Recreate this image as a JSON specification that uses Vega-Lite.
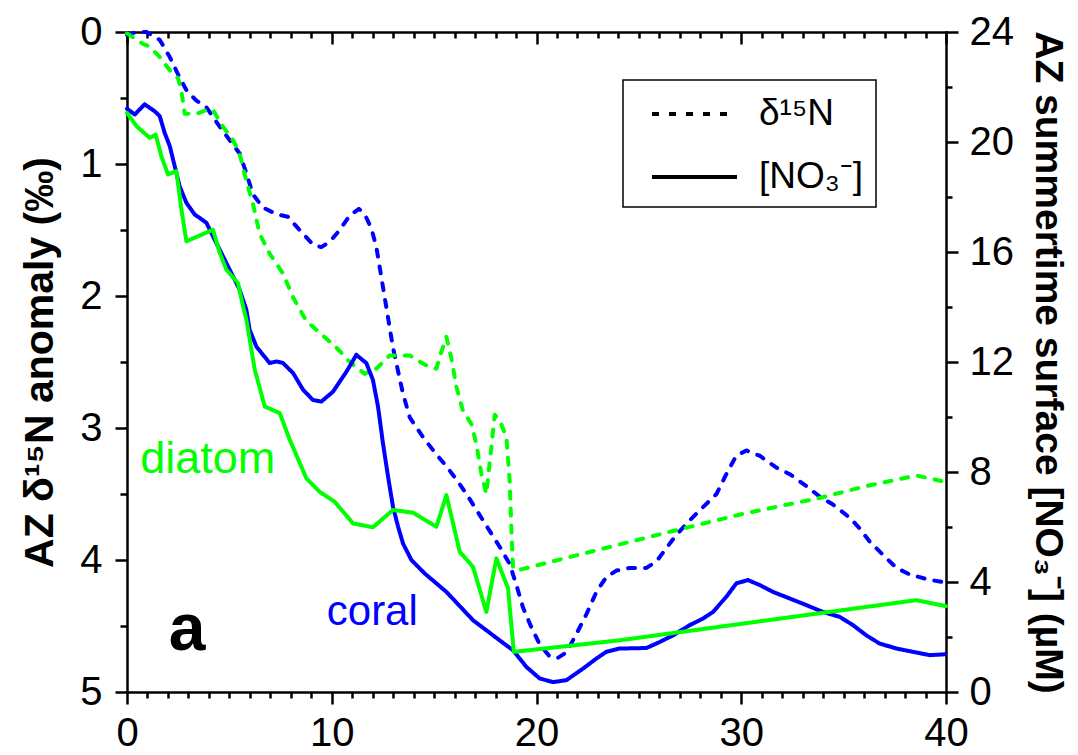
{
  "$schema": "https://vega.github.io/schema/vega-lite/v6.json",
  "width": 819,
  "height": 660,
  "autosize": {"type": "none"},
  "padding": {"left": 127, "top": 32, "right": 132, "bottom": 63},
  "background": "white",
  "config": {
    "view": {"stroke": null},
    "axis": {
      "domainColor": "black", "tickColor": "black", "domainWidth": 2.5, "tickWidth": 2.5,
      "domainCap": "square",
      "labelColor": "black", "labelFont": "Liberation Sans", "labelFontSize": 40,
      "grid": false, "labelFlush": false, "labelOverlap": false, "labelBound": false,
      "titleColor": "black"
    },
    "legend": {
      "orient": "none", "legendX": 496, "legendY": 48,
      "strokeColor": "black", "strokeWidth": 1.5, "fillColor": "white",
      "padding": 12, "symbolType": "M-0.25,0H4", "symbolSize": 1600,
      "symbolStrokeWidth": 4, "symbolStrokeColor": "black", "symbolFillColor": "transparent",
      "labelFont": "Liberation Sans", "labelFontSize": 37, "labelColor": "black",
      "labelOffset": 80, "rowPadding": 23
    }
  },
  "data": {"values": [
    {"proxy":"coral","kind":"d15N","age":0,"value":0.02},{"proxy":"coral","kind":"d15N","age":0.5,"value":0.0},{"proxy":"coral","kind":"d15N","age":0.95,"value":0.0},{"proxy":"coral","kind":"d15N","age":1.6,"value":0.06},{"proxy":"coral","kind":"d15N","age":2.09,"value":0.19},{"proxy":"coral","kind":"d15N","age":2.49,"value":0.32},{"proxy":"coral","kind":"d15N","age":2.9,"value":0.44},{"proxy":"coral","kind":"d15N","age":3.39,"value":0.52},{"proxy":"coral","kind":"d15N","age":3.88,"value":0.57},{"proxy":"coral","kind":"d15N","age":4.45,"value":0.70},{"proxy":"coral","kind":"d15N","age":5.02,"value":0.82},{"proxy":"coral","kind":"d15N","age":5.5,"value":0.92},{"proxy":"coral","kind":"d15N","age":5.83,"value":1.07},{"proxy":"coral","kind":"d15N","age":6.15,"value":1.23},{"proxy":"coral","kind":"d15N","age":6.64,"value":1.33},{"proxy":"coral","kind":"d15N","age":7.3,"value":1.38},{"proxy":"coral","kind":"d15N","age":7.86,"value":1.40},{"proxy":"coral","kind":"d15N","age":8.43,"value":1.50},{"proxy":"coral","kind":"d15N","age":9.08,"value":1.61},{"proxy":"coral","kind":"d15N","age":9.49,"value":1.63},{"proxy":"coral","kind":"d15N","age":9.9,"value":1.59},{"proxy":"coral","kind":"d15N","age":10.39,"value":1.50},{"proxy":"coral","kind":"d15N","age":10.88,"value":1.39},{"proxy":"coral","kind":"d15N","age":11.33,"value":1.34},{"proxy":"coral","kind":"d15N","age":11.61,"value":1.38},{"proxy":"coral","kind":"d15N","age":11.94,"value":1.49},{"proxy":"coral","kind":"d15N","age":12.18,"value":1.63},{"proxy":"coral","kind":"d15N","age":12.34,"value":1.78},{"proxy":"coral","kind":"d15N","age":12.5,"value":1.93},{"proxy":"coral","kind":"d15N","age":12.67,"value":2.09},{"proxy":"coral","kind":"d15N","age":12.83,"value":2.24},{"proxy":"coral","kind":"d15N","age":12.99,"value":2.39},{"proxy":"coral","kind":"d15N","age":13.24,"value":2.57},{"proxy":"coral","kind":"d15N","age":13.48,"value":2.74},{"proxy":"coral","kind":"d15N","age":13.81,"value":2.92},{"proxy":"coral","kind":"d15N","age":14.46,"value":3.07},{"proxy":"coral","kind":"d15N","age":15.11,"value":3.20},{"proxy":"coral","kind":"d15N","age":15.6,"value":3.29},{"proxy":"coral","kind":"d15N","age":16.09,"value":3.39},{"proxy":"coral","kind":"d15N","age":16.58,"value":3.50},{"proxy":"coral","kind":"d15N","age":17.39,"value":3.70},{"proxy":"coral","kind":"d15N","age":18.2,"value":3.90},{"proxy":"coral","kind":"d15N","age":18.69,"value":4.03},{"proxy":"coral","kind":"d15N","age":19.02,"value":4.19},{"proxy":"coral","kind":"d15N","age":19.34,"value":4.36},{"proxy":"coral","kind":"d15N","age":19.75,"value":4.51},{"proxy":"coral","kind":"d15N","age":20.16,"value":4.64},{"proxy":"coral","kind":"d15N","age":20.64,"value":4.73},{"proxy":"coral","kind":"d15N","age":21.05,"value":4.74},{"proxy":"coral","kind":"d15N","age":21.46,"value":4.70},{"proxy":"coral","kind":"d15N","age":21.95,"value":4.56},{"proxy":"coral","kind":"d15N","age":22.44,"value":4.41},{"proxy":"coral","kind":"d15N","age":22.93,"value":4.24},{"proxy":"coral","kind":"d15N","age":23.41,"value":4.13},{"proxy":"coral","kind":"d15N","age":23.9,"value":4.08},{"proxy":"coral","kind":"d15N","age":24.55,"value":4.06},{"proxy":"coral","kind":"d15N","age":25.37,"value":4.06},{"proxy":"coral","kind":"d15N","age":25.86,"value":4.01},{"proxy":"coral","kind":"d15N","age":26.34,"value":3.91},{"proxy":"coral","kind":"d15N","age":26.83,"value":3.81},{"proxy":"coral","kind":"d15N","age":27.48,"value":3.70},{"proxy":"coral","kind":"d15N","age":28.13,"value":3.60},{"proxy":"coral","kind":"d15N","age":28.79,"value":3.50},{"proxy":"coral","kind":"d15N","age":29.27,"value":3.35},{"proxy":"coral","kind":"d15N","age":29.76,"value":3.21},{"proxy":"coral","kind":"d15N","age":30.25,"value":3.17},{"proxy":"coral","kind":"d15N","age":30.9,"value":3.21},{"proxy":"coral","kind":"d15N","age":31.72,"value":3.30},{"proxy":"coral","kind":"d15N","age":32.37,"value":3.35},{"proxy":"coral","kind":"d15N","age":33.18,"value":3.44},{"proxy":"coral","kind":"d15N","age":33.83,"value":3.52},{"proxy":"coral","kind":"d15N","age":34.48,"value":3.58},{"proxy":"coral","kind":"d15N","age":35.3,"value":3.68},{"proxy":"coral","kind":"d15N","age":35.78,"value":3.76},{"proxy":"coral","kind":"d15N","age":36.27,"value":3.86},{"proxy":"coral","kind":"d15N","age":36.92,"value":3.96},{"proxy":"coral","kind":"d15N","age":37.58,"value":4.06},{"proxy":"coral","kind":"d15N","age":38.23,"value":4.11},{"proxy":"coral","kind":"d15N","age":39.2,"value":4.15},{"proxy":"coral","kind":"d15N","age":39.94,"value":4.17},

    {"proxy":"diatom","kind":"d15N","age":0,"value":0.01},{"proxy":"diatom","kind":"d15N","age":0.78,"value":0.09},{"proxy":"diatom","kind":"d15N","age":1.11,"value":0.11},{"proxy":"diatom","kind":"d15N","age":1.6,"value":0.19},{"proxy":"diatom","kind":"d15N","age":2.09,"value":0.29},{"proxy":"diatom","kind":"d15N","age":2.49,"value":0.35},{"proxy":"diatom","kind":"d15N","age":2.65,"value":0.44},{"proxy":"diatom","kind":"d15N","age":2.82,"value":0.62},{"proxy":"diatom","kind":"d15N","age":3.39,"value":0.62},{"proxy":"diatom","kind":"d15N","age":3.88,"value":0.59},{"proxy":"diatom","kind":"d15N","age":4.2,"value":0.59},{"proxy":"diatom","kind":"d15N","age":4.61,"value":0.70},{"proxy":"diatom","kind":"d15N","age":5.18,"value":0.82},{"proxy":"diatom","kind":"d15N","age":5.5,"value":0.92},{"proxy":"diatom","kind":"d15N","age":5.83,"value":1.13},{"proxy":"diatom","kind":"d15N","age":6.15,"value":1.30},{"proxy":"diatom","kind":"d15N","age":6.48,"value":1.53},{"proxy":"diatom","kind":"d15N","age":6.97,"value":1.68},{"proxy":"diatom","kind":"d15N","age":7.62,"value":1.83},{"proxy":"diatom","kind":"d15N","age":8.11,"value":2.01},{"proxy":"diatom","kind":"d15N","age":8.76,"value":2.19},{"proxy":"diatom","kind":"d15N","age":9.57,"value":2.30},{"proxy":"diatom","kind":"d15N","age":10.23,"value":2.39},{"proxy":"diatom","kind":"d15N","age":10.88,"value":2.50},{"proxy":"diatom","kind":"d15N","age":11.61,"value":2.59},{"proxy":"diatom","kind":"d15N","age":12.18,"value":2.55},{"proxy":"diatom","kind":"d15N","age":12.83,"value":2.45},{"proxy":"diatom","kind":"d15N","age":13.81,"value":2.45},{"proxy":"diatom","kind":"d15N","age":14.54,"value":2.52},{"proxy":"diatom","kind":"d15N","age":15.11,"value":2.55},{"proxy":"diatom","kind":"d15N","age":15.36,"value":2.42},{"proxy":"diatom","kind":"d15N","age":15.6,"value":2.31},{"proxy":"diatom","kind":"d15N","age":15.84,"value":2.47},{"proxy":"diatom","kind":"d15N","age":16.09,"value":2.69},{"proxy":"diatom","kind":"d15N","age":16.41,"value":2.87},{"proxy":"diatom","kind":"d15N","age":16.82,"value":2.97},{"proxy":"diatom","kind":"d15N","age":17.06,"value":3.12},{"proxy":"diatom","kind":"d15N","age":17.31,"value":3.35},{"proxy":"diatom","kind":"d15N","age":17.55,"value":3.50},{"proxy":"diatom","kind":"d15N","age":17.71,"value":3.27},{"proxy":"diatom","kind":"d15N","age":17.96,"value":2.90},{"proxy":"diatom","kind":"d15N","age":18.2,"value":2.94},{"proxy":"diatom","kind":"d15N","age":18.53,"value":3.07},{"proxy":"diatom","kind":"d15N","age":18.69,"value":3.40},{"proxy":"diatom","kind":"d15N","age":18.77,"value":3.75},{"proxy":"diatom","kind":"d15N","age":18.85,"value":4.05},{"proxy":"diatom","kind":"d15N","age":19.02,"value":4.08},{"proxy":"diatom","kind":"d15N","age":23.09,"value":3.92},{"proxy":"diatom","kind":"d15N","age":26.67,"value":3.78},{"proxy":"diatom","kind":"d15N","age":30.09,"value":3.65},{"proxy":"diatom","kind":"d15N","age":33.83,"value":3.53},{"proxy":"diatom","kind":"d15N","age":36.11,"value":3.44},{"proxy":"diatom","kind":"d15N","age":38.55,"value":3.36},{"proxy":"diatom","kind":"d15N","age":40,"value":3.41},

    {"proxy":"coral","kind":"NO3","age":0,"value":21.21},{"proxy":"coral","kind":"NO3","age":0.38,"value":21.0},{"proxy":"coral","kind":"NO3","age":0.86,"value":21.37},{"proxy":"coral","kind":"NO3","age":1.35,"value":21.12},{"proxy":"coral","kind":"NO3","age":1.6,"value":20.94},{"proxy":"coral","kind":"NO3","age":1.84,"value":20.33},{"proxy":"coral","kind":"NO3","age":2.09,"value":19.85},{"proxy":"coral","kind":"NO3","age":2.33,"value":19.12},{"proxy":"coral","kind":"NO3","age":2.57,"value":18.39},{"proxy":"coral","kind":"NO3","age":2.9,"value":17.79},{"proxy":"coral","kind":"NO3","age":3.31,"value":17.36},{"proxy":"coral","kind":"NO3","age":3.55,"value":17.24},{"proxy":"coral","kind":"NO3","age":3.88,"value":17.06},{"proxy":"coral","kind":"NO3","age":4.28,"value":16.45},{"proxy":"coral","kind":"NO3","age":4.69,"value":15.84},{"proxy":"coral","kind":"NO3","age":5.18,"value":15.11},{"proxy":"coral","kind":"NO3","age":5.5,"value":14.63},{"proxy":"coral","kind":"NO3","age":5.83,"value":13.9},{"proxy":"coral","kind":"NO3","age":5.99,"value":13.17},{"proxy":"coral","kind":"NO3","age":6.32,"value":12.56},{"proxy":"coral","kind":"NO3","age":6.97,"value":11.96},{"proxy":"coral","kind":"NO3","age":7.3,"value":12.02},{"proxy":"coral","kind":"NO3","age":7.62,"value":11.96},{"proxy":"coral","kind":"NO3","age":8.11,"value":11.6},{"proxy":"coral","kind":"NO3","age":8.6,"value":10.99},{"proxy":"coral","kind":"NO3","age":9.08,"value":10.62},{"proxy":"coral","kind":"NO3","age":9.49,"value":10.56},{"proxy":"coral","kind":"NO3","age":10.06,"value":10.92},{"proxy":"coral","kind":"NO3","age":10.72,"value":11.65},{"proxy":"coral","kind":"NO3","age":11.2,"value":12.26},{"proxy":"coral","kind":"NO3","age":11.69,"value":11.96},{"proxy":"coral","kind":"NO3","age":12.01,"value":11.35},{"proxy":"coral","kind":"NO3","age":12.26,"value":10.38},{"proxy":"coral","kind":"NO3","age":12.5,"value":9.05},{"proxy":"coral","kind":"NO3","age":12.75,"value":7.83},{"proxy":"coral","kind":"NO3","age":12.99,"value":6.74},{"proxy":"coral","kind":"NO3","age":13.24,"value":6.01},{"proxy":"coral","kind":"NO3","age":13.48,"value":5.40},{"proxy":"coral","kind":"NO3","age":13.89,"value":4.80},{"proxy":"coral","kind":"NO3","age":14.54,"value":4.31},{"proxy":"coral","kind":"NO3","age":15.6,"value":3.64},{"proxy":"coral","kind":"NO3","age":16.9,"value":2.61},{"proxy":"coral","kind":"NO3","age":18.2,"value":1.88},{"proxy":"coral","kind":"NO3","age":18.85,"value":1.52},{"proxy":"coral","kind":"NO3","age":19.51,"value":0.91},{"proxy":"coral","kind":"NO3","age":20.16,"value":0.49},{"proxy":"coral","kind":"NO3","age":20.81,"value":0.36},{"proxy":"coral","kind":"NO3","age":21.46,"value":0.43},{"proxy":"coral","kind":"NO3","age":22.27,"value":0.85},{"proxy":"coral","kind":"NO3","age":22.93,"value":1.22},{"proxy":"coral","kind":"NO3","age":23.41,"value":1.46},{"proxy":"coral","kind":"NO3","age":24.06,"value":1.58},{"proxy":"coral","kind":"NO3","age":25.37,"value":1.60},{"proxy":"coral","kind":"NO3","age":26.02,"value":1.82},{"proxy":"coral","kind":"NO3","age":26.67,"value":2.06},{"proxy":"coral","kind":"NO3","age":27.48,"value":2.43},{"proxy":"coral","kind":"NO3","age":28.13,"value":2.67},{"proxy":"coral","kind":"NO3","age":28.62,"value":2.91},{"proxy":"coral","kind":"NO3","age":29.27,"value":3.46},{"proxy":"coral","kind":"NO3","age":29.76,"value":3.95},{"proxy":"coral","kind":"NO3","age":30.33,"value":4.07},{"proxy":"coral","kind":"NO3","age":30.9,"value":3.89},{"proxy":"coral","kind":"NO3","age":31.55,"value":3.64},{"proxy":"coral","kind":"NO3","age":32.37,"value":3.40},{"proxy":"coral","kind":"NO3","age":33.18,"value":3.16},{"proxy":"coral","kind":"NO3","age":33.99,"value":2.91},{"proxy":"coral","kind":"NO3","age":34.81,"value":2.73},{"proxy":"coral","kind":"NO3","age":35.46,"value":2.43},{"proxy":"coral","kind":"NO3","age":36.11,"value":2.06},{"proxy":"coral","kind":"NO3","age":36.76,"value":1.76},{"proxy":"coral","kind":"NO3","age":37.58,"value":1.58},{"proxy":"coral","kind":"NO3","age":38.39,"value":1.46},{"proxy":"coral","kind":"NO3","age":39.2,"value":1.34},{"proxy":"coral","kind":"NO3","age":39.94,"value":1.37},

    {"proxy":"diatom","kind":"NO3","age":0,"value":21.06},{"proxy":"diatom","kind":"NO3","age":0.46,"value":20.58},{"proxy":"diatom","kind":"NO3","age":1.11,"value":20.15},{"proxy":"diatom","kind":"NO3","age":1.4,"value":20.27},{"proxy":"diatom","kind":"NO3","age":1.68,"value":19.48},{"proxy":"diatom","kind":"NO3","age":2.0,"value":18.82},{"proxy":"diatom","kind":"NO3","age":2.41,"value":18.94},{"proxy":"diatom","kind":"NO3","age":2.66,"value":17.54},{"proxy":"diatom","kind":"NO3","age":2.9,"value":16.39},{"proxy":"diatom","kind":"NO3","age":4.2,"value":16.81},{"proxy":"diatom","kind":"NO3","age":4.53,"value":15.97},{"proxy":"diatom","kind":"NO3","age":4.85,"value":15.36},{"proxy":"diatom","kind":"NO3","age":5.42,"value":14.87},{"proxy":"diatom","kind":"NO3","age":5.67,"value":14.02},{"proxy":"diatom","kind":"NO3","age":5.83,"value":13.54},{"proxy":"diatom","kind":"NO3","age":6.24,"value":11.72},{"proxy":"diatom","kind":"NO3","age":6.73,"value":10.38},{"proxy":"diatom","kind":"NO3","age":7.46,"value":10.14},{"proxy":"diatom","kind":"NO3","age":7.95,"value":9.17},{"proxy":"diatom","kind":"NO3","age":8.76,"value":7.77},{"proxy":"diatom","kind":"NO3","age":9.41,"value":7.28},{"proxy":"diatom","kind":"NO3","age":10.14,"value":6.92},{"proxy":"diatom","kind":"NO3","age":11.04,"value":6.13},{"proxy":"diatom","kind":"NO3","age":12.01,"value":5.99},{"proxy":"diatom","kind":"NO3","age":12.99,"value":6.62},{"proxy":"diatom","kind":"NO3","age":13.97,"value":6.52},{"proxy":"diatom","kind":"NO3","age":15.11,"value":6.01},{"proxy":"diatom","kind":"NO3","age":15.6,"value":7.16},{"proxy":"diatom","kind":"NO3","age":16.25,"value":5.10},{"proxy":"diatom","kind":"NO3","age":16.9,"value":4.55},{"proxy":"diatom","kind":"NO3","age":17.55,"value":2.91},{"proxy":"diatom","kind":"NO3","age":18.04,"value":4.86},{"proxy":"diatom","kind":"NO3","age":18.61,"value":3.77},{"proxy":"diatom","kind":"NO3","age":18.89,"value":1.46},{"proxy":"diatom","kind":"NO3","age":24.06,"value":1.88},{"proxy":"diatom","kind":"NO3","age":29.92,"value":2.47},{"proxy":"diatom","kind":"NO3","age":38.55,"value":3.34},{"proxy":"diatom","kind":"NO3","age":40,"value":3.12}
  ]},
  "layer": [
    {
      "transform": [{"filter": "datum.kind === 'd15N'"}],
      "mark": {"type": "line", "strokeWidth": 4, "strokeCap": "round", "strokeJoin": "round"},
      "encoding": {
        "x": {"field": "age", "type": "quantitative", "scale": {"domain": [0, 40], "nice": false, "zero": false},
              "axis": {"orient": "bottom", "values": [0, 10, 20, 30, 40], "tickSize": 12, "labelPadding": 9, "title": null}},
        "y": {"field": "value", "type": "quantitative", "scale": {"domain": [0, 5], "reverse": true, "nice": false, "zero": false},
              "axis": {"orient": "left", "values": [0, 1, 2, 3, 4, 5], "tickSize": 12, "labelPadding": 13,
                       "title": "AZ δ¹⁵N anomaly (‰)", "titleFont": "Liberation Sans", "titleFontWeight": "bold", "titleFontSize": 41, "titlePadding": 18}},
        "color": {"field": "proxy", "type": "nominal", "scale": {"domain": ["coral", "diatom"], "range": ["#0000ff", "#00ff00"]}, "legend": null},
        "strokeDash": {"field": "kind", "type": "nominal", "scale": {"domain": ["d15N", "NO3"], "range": [[7, 10], [1, 0]]},
                       "legend": {"title": null, "labelExpr": "datum.label === 'd15N' ? 'δ¹⁵N' : '[NO₃⁻]'"}}
      }
    },
    {
      "transform": [{"filter": "datum.kind === 'NO3'"}],
      "mark": {"type": "line", "strokeWidth": 4, "strokeCap": "round", "strokeJoin": "round"},
      "encoding": {
        "x": {"field": "age", "type": "quantitative", "scale": {"domain": [0, 40], "nice": false, "zero": false},
              "axis": {"orient": "top", "values": [0, 10, 20, 30, 40], "tickSize": -12, "labels": false, "title": null}},
        "y": {"field": "value", "type": "quantitative", "scale": {"domain": [0, 24], "nice": false, "zero": false},
              "axis": {"orient": "right", "values": [0, 4, 8, 12, 16, 20, 24], "tickSize": 12, "labelPadding": 11,
                       "title": "AZ summertime surface [NO₃⁻] (µM)", "titleFont": "Liberation Sans", "titleFontWeight": "bold", "titleFontSize": 39, "titlePadding": 14}},
        "color": {"field": "proxy", "type": "nominal", "scale": {"domain": ["coral", "diatom"], "range": ["#0000ff", "#00ff00"]}, "legend": null},
        "strokeDash": {"field": "kind", "type": "nominal", "scale": {"domain": ["d15N", "NO3"], "range": [[7, 10], [1, 0]]},
                       "legend": {"title": null, "labelExpr": "datum.label === 'd15N' ? 'δ¹⁵N' : '[NO₃⁻]'"}}
      }
    },
    {
      "transform": [{"filter": "datum.kind === 'd15N'"}],
      "mark": {"type": "point", "opacity": 0},
      "encoding": {
        "x": {"field": "age", "type": "quantitative", "scale": {"domain": [0, 40], "nice": false, "zero": false},
              "axis": {"orient": "bottom", "values": [1,2,3,4,5,6,7,8,9,11,12,13,14,15,16,17,18,19,21,22,23,24,25,26,27,28,29,31,32,33,34,35,36,37,38,39], "tickSize": 6, "labels": false, "domain": false, "title": null}},
        "y": {"field": "value", "type": "quantitative", "scale": {"domain": [0, 5], "reverse": true, "nice": false, "zero": false},
              "axis": {"orient": "left", "values": [0.5, 1.5, 2.5, 3.5, 4.5], "tickSize": 7, "labels": false, "domain": false, "title": null}}
      }
    },
    {
      "transform": [{"filter": "datum.kind === 'NO3'"}],
      "mark": {"type": "point", "opacity": 0},
      "encoding": {
        "x": {"field": "age", "type": "quantitative", "scale": {"domain": [0, 40], "nice": false, "zero": false},
              "axis": {"orient": "top", "values": [1,2,3,4,5,6,7,8,9,11,12,13,14,15,16,17,18,19,21,22,23,24,25,26,27,28,29,31,32,33,34,35,36,37,38,39], "tickSize": -6, "labels": false, "domain": false, "title": null}},
        "y": {"field": "value", "type": "quantitative", "scale": {"domain": [0, 24], "nice": false, "zero": false},
              "axis": {"orient": "right", "values": [2, 6, 10, 14, 18, 22], "tickSize": 6, "labels": false, "domain": false, "title": null}}
      }
    },
    {
      "data": {"values": [{"label": "diatom"}]},
      "mark": {"type": "text", "font": "Liberation Sans", "fontSize": 45, "color": "#00ff00", "align": "center", "baseline": "alphabetic"},
      "encoding": {
        "text": {"field": "label"},
        "x": {"datum": 3.94, "type": "quantitative", "scale": {"domain": [0, 40], "nice": false}, "axis": null},
        "y": {"datum": 3.34, "type": "quantitative", "scale": {"domain": [0, 5], "reverse": true, "nice": false}, "axis": null}
      }
    },
    {
      "data": {"values": [{"label": "coral"}]},
      "mark": {"type": "text", "font": "Liberation Sans", "fontSize": 42, "color": "#0000ff", "align": "center", "baseline": "alphabetic"},
      "encoding": {
        "text": {"field": "label"},
        "x": {"datum": 11.98, "type": "quantitative", "scale": {"domain": [0, 40], "nice": false}, "axis": null},
        "y": {"datum": 4.49, "type": "quantitative", "scale": {"domain": [0, 5], "reverse": true, "nice": false}, "axis": null}
      }
    },
    {
      "data": {"values": [{"label": "a"}]},
      "mark": {"type": "text", "font": "Liberation Sans", "fontSize": 66, "fontWeight": "bold", "color": "black", "align": "center", "baseline": "alphabetic"},
      "encoding": {
        "text": {"field": "label"},
        "x": {"datum": 2.94, "type": "quantitative", "scale": {"domain": [0, 40], "nice": false}, "axis": null},
        "y": {"datum": 4.68, "type": "quantitative", "scale": {"domain": [0, 5], "reverse": true, "nice": false}, "axis": null}
      }
    }
  ],
  "resolve": {
    "scale": {"x": "independent", "y": "independent"},
    "axis": {"x": "independent", "y": "independent"}
  }
}
